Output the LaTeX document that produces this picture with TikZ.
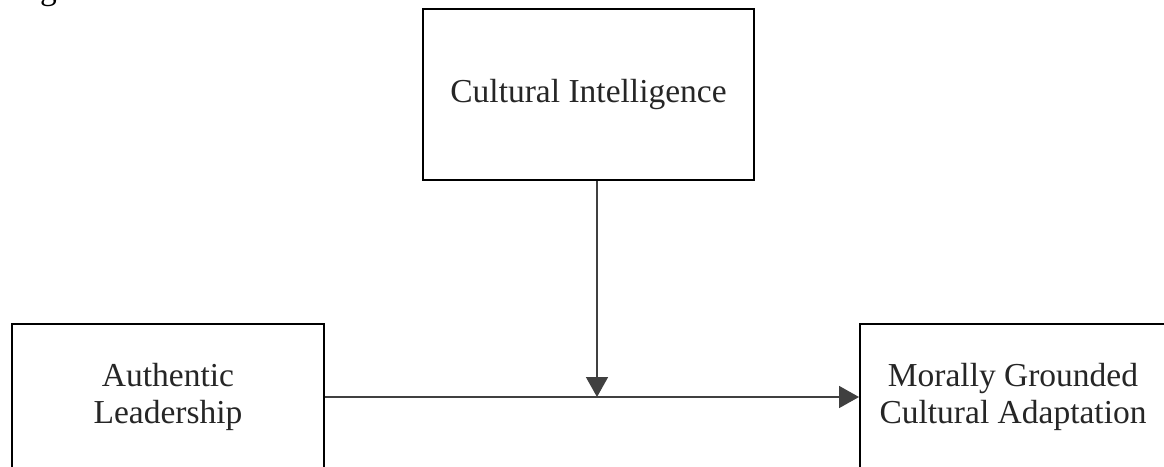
\documentclass[tikz,border=0pt]{standalone}
\usepackage{fontspec}
\setmainfont{Liberation Serif}
\usetikzlibrary{arrows.meta}
\tikzset{
  boxnode/.style={draw=black, line width=2pt, inner sep=0pt, align=center,
    text=black!85, font=\fontsize{33.5}{37}\selectfont},
  arrowline/.style={draw=black!75, line width=1.6pt,
    -{Triangle[length=20pt,width=22pt]}},
  captionnode/.style={inner sep=0pt, anchor=base west, text=black,
    font=\fontsize{33.5}{37}\selectfont}
}
\begin{document}
\begin{tikzpicture}[x=1pt,y=-1pt]
\useasboundingbox (0,0) rectangle (1164,466);
\clip (0,0) rectangle (1164,466);
\fill[white] (0,0) rectangle (1164,466);
\node[captionnode] (fig) at (12,-1) {Figure};
\node[boxnode, minimum width=331pt, minimum height=171pt] (ci) at (588.5,94.5)
  {\raisebox{8pt}{Cultural Intelligence}};
\node[boxnode, minimum width=312pt, minimum height=146pt] (al) at (168,397)
  {Authentic\\Leadership};
\node[boxnode, minimum width=306pt, minimum height=146pt] (mc) at (1013,397)
  {Morally Grounded\\Cultural Adaptation};
\coordinate (m) at (597,397);
\draw[arrowline] (ci.south -| m) -- (m);
\draw[arrowline] (al.east) -- (mc.west);
\end{tikzpicture}
\end{document}
